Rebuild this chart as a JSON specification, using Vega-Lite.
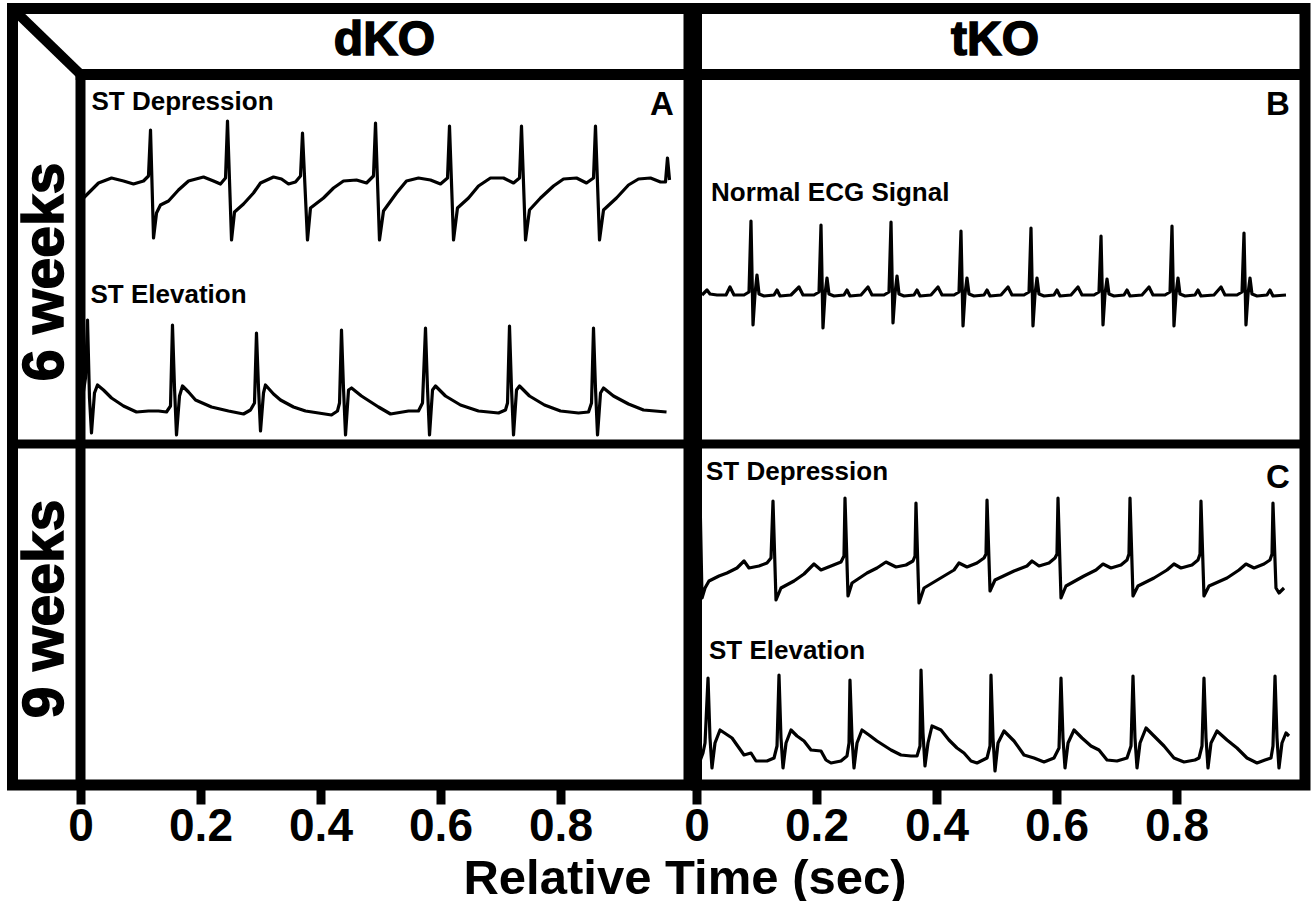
{
 "$schema": "https://vega.github.io/schema/vega-lite/v6.json",
 "background": "white",
 "padding": {"left": 1.5, "top": -2.5, "right": 0, "bottom": 0},
 "bounds": "flush",
 "spacing": 7,
 "config": {
  "view": {"stroke": "black", "strokeWidth": 11},
  "font": "Liberation Sans",
  "text": {"font": "Liberation Sans", "fontWeight": "bold", "color": "black"}
 },
 "title": {"text": "Relative Time (sec)", "orient": "bottom", "anchor": "middle", "font": "Liberation Sans", "fontSize": 49, "fontWeight": "bold", "color": "black", "offset": 0, "dx": 26},
 "datasets": {
  "dko": [
   {"s":"dep","t":0,"v":5.84},{"s":"dep","t":0.0133,"v":5.92},{"s":"dep","t":0.03,"v":6.02},{"s":"dep","t":0.0517,"v":6.07},{"s":"dep","t":0.0717,"v":6.04},{"s":"dep","t":0.0883,"v":6.01},{"s":"dep","t":0.105,"v":6.04},{"s":"dep","t":0.1133,"v":6.09},{"s":"dep","t":0.1167,"v":6.55},{"s":"dep","t":0.1217,"v":5.47},{"s":"dep","t":0.1267,"v":5.72},{"s":"dep","t":0.1333,"v":5.80},{"s":"dep","t":0.1467,"v":5.84},{"s":"dep","t":0.1633,"v":5.95},{"s":"dep","t":0.18,"v":6.04},{"s":"dep","t":0.205,"v":6.08},{"s":"dep","t":0.2217,"v":6.04},{"s":"dep","t":0.2333,"v":6.01},{"s":"dep","t":0.2417,"v":6.07},{"s":"dep","t":0.245,"v":6.64},{"s":"dep","t":0.2517,"v":5.45},{"s":"dep","t":0.2567,"v":5.73},{"s":"dep","t":0.2717,"v":5.81},{"s":"dep","t":0.2883,"v":5.92},{"s":"dep","t":0.3,"v":6.02},{"s":"dep","t":0.3217,"v":6.08},{"s":"dep","t":0.335,"v":6.06},{"s":"dep","t":0.3467,"v":6.01},{"s":"dep","t":0.3583,"v":6.03},{"s":"dep","t":0.3667,"v":6.09},{"s":"dep","t":0.37,"v":6.52},{"s":"dep","t":0.3783,"v":5.45},{"s":"dep","t":0.3833,"v":5.77},{"s":"dep","t":0.405,"v":5.87},{"s":"dep","t":0.4217,"v":5.97},{"s":"dep","t":0.4383,"v":6.04},{"s":"dep","t":0.46,"v":6.05},{"s":"dep","t":0.4767,"v":6.02},{"s":"dep","t":0.4883,"v":6.09},{"s":"dep","t":0.4917,"v":6.62},{"s":"dep","t":0.4983,"v":5.45},{"s":"dep","t":0.505,"v":5.74},{"s":"dep","t":0.5267,"v":5.92},{"s":"dep","t":0.5433,"v":6.04},{"s":"dep","t":0.5633,"v":6.07},{"s":"dep","t":0.5833,"v":6.05},{"s":"dep","t":0.6,"v":6.01},{"s":"dep","t":0.6117,"v":6.07},{"s":"dep","t":0.615,"v":6.59},{"s":"dep","t":0.6217,"v":5.45},{"s":"dep","t":0.6283,"v":5.77},{"s":"dep","t":0.6467,"v":5.87},{"s":"dep","t":0.6633,"v":5.99},{"s":"dep","t":0.6833,"v":6.07},{"s":"dep","t":0.705,"v":6.07},{"s":"dep","t":0.7217,"v":6.02},{"s":"dep","t":0.7317,"v":6.07},{"s":"dep","t":0.735,"v":6.59},{"s":"dep","t":0.7417,"v":5.45},{"s":"dep","t":0.7483,"v":5.75},{"s":"dep","t":0.7667,"v":5.87},{"s":"dep","t":0.7883,"v":5.99},{"s":"dep","t":0.805,"v":6.06},{"s":"dep","t":0.8267,"v":6.07},{"s":"dep","t":0.8433,"v":6.02},{"s":"dep","t":0.855,"v":6.07},{"s":"dep","t":0.8583,"v":6.59},{"s":"dep","t":0.865,"v":5.45},{"s":"dep","t":0.8717,"v":5.75},{"s":"dep","t":0.8933,"v":5.87},{"s":"dep","t":0.9133,"v":6.00},{"s":"dep","t":0.93,"v":6.06},{"s":"dep","t":0.95,"v":6.07},{"s":"dep","t":0.9667,"v":6.03},{"s":"dep","t":0.975,"v":6.03},{"s":"dep","t":0.9783,"v":6.27},{"s":"dep","t":0.9817,"v":6.05},
   {"s":"elev","t":0.0033,"v":3.87},{"s":"elev","t":0.0083,"v":4.07},{"s":"elev","t":0.0117,"v":4.65},{"s":"elev","t":0.015,"v":3.87},{"s":"elev","t":0.0183,"v":3.52},{"s":"elev","t":0.0233,"v":3.92},{"s":"elev","t":0.0283,"v":4.00},{"s":"elev","t":0.0383,"v":3.95},{"s":"elev","t":0.0517,"v":3.87},{"s":"elev","t":0.0717,"v":3.79},{"s":"elev","t":0.0933,"v":3.73},{"s":"elev","t":0.1133,"v":3.74},{"s":"elev","t":0.13,"v":3.74},{"s":"elev","t":0.1433,"v":3.73},{"s":"elev","t":0.15,"v":3.79},{"s":"elev","t":0.1533,"v":4.60},{"s":"elev","t":0.1567,"v":3.97},{"s":"elev","t":0.16,"v":3.50},{"s":"elev","t":0.165,"v":3.89},{"s":"elev","t":0.17,"v":3.99},{"s":"elev","t":0.18,"v":3.93},{"s":"elev","t":0.1917,"v":3.85},{"s":"elev","t":0.2183,"v":3.78},{"s":"elev","t":0.2467,"v":3.74},{"s":"elev","t":0.2717,"v":3.71},{"s":"elev","t":0.2833,"v":3.75},{"s":"elev","t":0.29,"v":3.82},{"s":"elev","t":0.2933,"v":4.52},{"s":"elev","t":0.2967,"v":3.97},{"s":"elev","t":0.3,"v":3.54},{"s":"elev","t":0.305,"v":3.92},{"s":"elev","t":0.3083,"v":4.00},{"s":"elev","t":0.3217,"v":3.91},{"s":"elev","t":0.3333,"v":3.85},{"s":"elev","t":0.355,"v":3.78},{"s":"elev","t":0.375,"v":3.74},{"s":"elev","t":0.3967,"v":3.72},{"s":"elev","t":0.4183,"v":3.70},{"s":"elev","t":0.4283,"v":3.74},{"s":"elev","t":0.4317,"v":3.82},{"s":"elev","t":0.435,"v":4.55},{"s":"elev","t":0.4383,"v":3.97},{"s":"elev","t":0.4417,"v":3.50},{"s":"elev","t":0.4467,"v":3.95},{"s":"elev","t":0.4517,"v":3.97},{"s":"elev","t":0.4683,"v":3.89},{"s":"elev","t":0.4967,"v":3.78},{"s":"elev","t":0.5167,"v":3.71},{"s":"elev","t":0.5467,"v":3.74},{"s":"elev","t":0.5633,"v":3.74},{"s":"elev","t":0.57,"v":3.82},{"s":"elev","t":0.575,"v":4.57},{"s":"elev","t":0.5783,"v":3.97},{"s":"elev","t":0.5817,"v":3.50},{"s":"elev","t":0.5867,"v":3.95},{"s":"elev","t":0.5917,"v":3.99},{"s":"elev","t":0.6083,"v":3.89},{"s":"elev","t":0.6333,"v":3.80},{"s":"elev","t":0.6633,"v":3.74},{"s":"elev","t":0.6967,"v":3.72},{"s":"elev","t":0.7083,"v":3.75},{"s":"elev","t":0.7117,"v":3.82},{"s":"elev","t":0.715,"v":4.59},{"s":"elev","t":0.7183,"v":3.97},{"s":"elev","t":0.7217,"v":3.50},{"s":"elev","t":0.7267,"v":3.95},{"s":"elev","t":0.7317,"v":3.99},{"s":"elev","t":0.7483,"v":3.89},{"s":"elev","t":0.7733,"v":3.80},{"s":"elev","t":0.8,"v":3.74},{"s":"elev","t":0.83,"v":3.72},{"s":"elev","t":0.8467,"v":3.73},{"s":"elev","t":0.8517,"v":3.82},{"s":"elev","t":0.855,"v":4.57},{"s":"elev","t":0.8583,"v":3.97},{"s":"elev","t":0.8617,"v":3.50},{"s":"elev","t":0.8667,"v":3.92},{"s":"elev","t":0.8717,"v":3.97},{"s":"elev","t":0.8883,"v":3.89},{"s":"elev","t":0.9133,"v":3.81},{"s":"elev","t":0.9383,"v":3.75},{"s":"elev","t":0.9767,"v":3.73}
  ],
  "tko": [
   {"s":"norm","t":0.0092,"v":4.90},{"s":"norm","t":0.0175,"v":4.95},{"s":"norm","t":0.0225,"v":4.91},{"s":"norm","t":0.0342,"v":4.90},{"s":"norm","t":0.0492,"v":4.90},{"s":"norm","t":0.0558,"v":4.98},{"s":"norm","t":0.0625,"v":4.90},{"s":"norm","t":0.0792,"v":4.90},{"s":"norm","t":0.0875,"v":4.93},{"s":"norm","t":0.0908,"v":5.64},{"s":"norm","t":0.0942,"v":4.60},{"s":"norm","t":0.0975,"v":4.91},{"s":"norm","t":0.1008,"v":5.10},{"s":"norm","t":0.1042,"v":4.91},{"s":"norm","t":0.1125,"v":4.89},{"s":"norm","t":0.1292,"v":4.90},{"s":"norm","t":0.1342,"v":4.95},{"s":"norm","t":0.1392,"v":4.89},{"s":"norm","t":0.1575,"v":4.90},{"s":"norm","t":0.1708,"v":4.98},{"s":"norm","t":0.1775,"v":4.90},{"s":"norm","t":0.1958,"v":4.90},{"s":"norm","t":0.2042,"v":4.93},{"s":"norm","t":0.2075,"v":5.60},{"s":"norm","t":0.2108,"v":4.57},{"s":"norm","t":0.2142,"v":4.91},{"s":"norm","t":0.2175,"v":5.07},{"s":"norm","t":0.2208,"v":4.91},{"s":"norm","t":0.2292,"v":4.89},{"s":"norm","t":0.2458,"v":4.90},{"s":"norm","t":0.2508,"v":4.95},{"s":"norm","t":0.2558,"v":4.89},{"s":"norm","t":0.2742,"v":4.90},{"s":"norm","t":0.2858,"v":4.98},{"s":"norm","t":0.2925,"v":4.90},{"s":"norm","t":0.3125,"v":4.90},{"s":"norm","t":0.3208,"v":4.93},{"s":"norm","t":0.3242,"v":5.63},{"s":"norm","t":0.3275,"v":4.62},{"s":"norm","t":0.3308,"v":4.91},{"s":"norm","t":0.3342,"v":5.09},{"s":"norm","t":0.3375,"v":4.91},{"s":"norm","t":0.3458,"v":4.89},{"s":"norm","t":0.3625,"v":4.90},{"s":"norm","t":0.3675,"v":4.95},{"s":"norm","t":0.3725,"v":4.89},{"s":"norm","t":0.3908,"v":4.90},{"s":"norm","t":0.4025,"v":4.98},{"s":"norm","t":0.4092,"v":4.90},{"s":"norm","t":0.4292,"v":4.90},{"s":"norm","t":0.4375,"v":4.93},{"s":"norm","t":0.4408,"v":5.54},{"s":"norm","t":0.4442,"v":4.59},{"s":"norm","t":0.4475,"v":4.91},{"s":"norm","t":0.4508,"v":5.07},{"s":"norm","t":0.4542,"v":4.91},{"s":"norm","t":0.4625,"v":4.89},{"s":"norm","t":0.4792,"v":4.90},{"s":"norm","t":0.4842,"v":4.95},{"s":"norm","t":0.4892,"v":4.89},{"s":"norm","t":0.5075,"v":4.90},{"s":"norm","t":0.5192,"v":4.98},{"s":"norm","t":0.5258,"v":4.90},{"s":"norm","t":0.5458,"v":4.90},{"s":"norm","t":0.5542,"v":4.93},{"s":"norm","t":0.5575,"v":5.57},{"s":"norm","t":0.5608,"v":4.59},{"s":"norm","t":0.5642,"v":4.91},{"s":"norm","t":0.5675,"v":5.07},{"s":"norm","t":0.5708,"v":4.91},{"s":"norm","t":0.5792,"v":4.89},{"s":"norm","t":0.5958,"v":4.90},{"s":"norm","t":0.6008,"v":4.95},{"s":"norm","t":0.6058,"v":4.89},{"s":"norm","t":0.6242,"v":4.90},{"s":"norm","t":0.6358,"v":4.98},{"s":"norm","t":0.6425,"v":4.90},{"s":"norm","t":0.6625,"v":4.90},{"s":"norm","t":0.6708,"v":4.93},{"s":"norm","t":0.6742,"v":5.49},{"s":"norm","t":0.6775,"v":4.60},{"s":"norm","t":0.6808,"v":4.91},{"s":"norm","t":0.6842,"v":5.06},{"s":"norm","t":0.6875,"v":4.91},{"s":"norm","t":0.6958,"v":4.89},{"s":"norm","t":0.7125,"v":4.90},{"s":"norm","t":0.7175,"v":4.95},{"s":"norm","t":0.7225,"v":4.89},{"s":"norm","t":0.7425,"v":4.90},{"s":"norm","t":0.7542,"v":4.98},{"s":"norm","t":0.7608,"v":4.90},{"s":"norm","t":0.7808,"v":4.90},{"s":"norm","t":0.7892,"v":4.93},{"s":"norm","t":0.7925,"v":5.59},{"s":"norm","t":0.7958,"v":4.59},{"s":"norm","t":0.7992,"v":4.91},{"s":"norm","t":0.8025,"v":5.07},{"s":"norm","t":0.8058,"v":4.91},{"s":"norm","t":0.8142,"v":4.89},{"s":"norm","t":0.8308,"v":4.90},{"s":"norm","t":0.8358,"v":4.95},{"s":"norm","t":0.8408,"v":4.89},{"s":"norm","t":0.8625,"v":4.90},{"s":"norm","t":0.8742,"v":4.98},{"s":"norm","t":0.8808,"v":4.90},{"s":"norm","t":0.9008,"v":4.90},{"s":"norm","t":0.9092,"v":4.93},{"s":"norm","t":0.9125,"v":5.52},{"s":"norm","t":0.9158,"v":4.60},{"s":"norm","t":0.9192,"v":4.91},{"s":"norm","t":0.9225,"v":5.07},{"s":"norm","t":0.9258,"v":4.91},{"s":"norm","t":0.9342,"v":4.89},{"s":"norm","t":0.9508,"v":4.90},{"s":"norm","t":0.9558,"v":4.95},{"s":"norm","t":0.9608,"v":4.89},{"s":"norm","t":0.9825,"v":4.90},
   {"s":"dep","t":0.0058,"v":2.89},{"s":"dep","t":0.0092,"v":1.87},{"s":"dep","t":0.0142,"v":1.97},{"s":"dep","t":0.0208,"v":2.04},{"s":"dep","t":0.0375,"v":2.09},{"s":"dep","t":0.0508,"v":2.12},{"s":"dep","t":0.0675,"v":2.17},{"s":"dep","t":0.0792,"v":2.24},{"s":"dep","t":0.0875,"v":2.17},{"s":"dep","t":0.1042,"v":2.19},{"s":"dep","t":0.1175,"v":2.22},{"s":"dep","t":0.1242,"v":2.27},{"s":"dep","t":0.1275,"v":2.84},{"s":"dep","t":0.1325,"v":1.85},{"s":"dep","t":0.1408,"v":1.97},{"s":"dep","t":0.1625,"v":2.04},{"s":"dep","t":0.1792,"v":2.11},{"s":"dep","t":0.1958,"v":2.21},{"s":"dep","t":0.2075,"v":2.15},{"s":"dep","t":0.2242,"v":2.19},{"s":"dep","t":0.2408,"v":2.23},{"s":"dep","t":0.2458,"v":2.29},{"s":"dep","t":0.2475,"v":2.87},{"s":"dep","t":0.2525,"v":1.89},{"s":"dep","t":0.2592,"v":2.02},{"s":"dep","t":0.2842,"v":2.12},{"s":"dep","t":0.3008,"v":2.17},{"s":"dep","t":0.3158,"v":2.23},{"s":"dep","t":0.3325,"v":2.18},{"s":"dep","t":0.3492,"v":2.20},{"s":"dep","t":0.3608,"v":2.24},{"s":"dep","t":0.3642,"v":2.29},{"s":"dep","t":0.3658,"v":2.82},{"s":"dep","t":0.3708,"v":1.82},{"s":"dep","t":0.3792,"v":1.97},{"s":"dep","t":0.4125,"v":2.09},{"s":"dep","t":0.4292,"v":2.15},{"s":"dep","t":0.4375,"v":2.22},{"s":"dep","t":0.4508,"v":2.18},{"s":"dep","t":0.4675,"v":2.22},{"s":"dep","t":0.4792,"v":2.27},{"s":"dep","t":0.4825,"v":2.31},{"s":"dep","t":0.4842,"v":2.85},{"s":"dep","t":0.4892,"v":1.94},{"s":"dep","t":0.4975,"v":2.05},{"s":"dep","t":0.5292,"v":2.14},{"s":"dep","t":0.5508,"v":2.19},{"s":"dep","t":0.5592,"v":2.24},{"s":"dep","t":0.5708,"v":2.19},{"s":"dep","t":0.5875,"v":2.22},{"s":"dep","t":0.5975,"v":2.27},{"s":"dep","t":0.6008,"v":2.31},{"s":"dep","t":0.6025,"v":2.87},{"s":"dep","t":0.6075,"v":1.87},{"s":"dep","t":0.6158,"v":1.99},{"s":"dep","t":0.6458,"v":2.09},{"s":"dep","t":0.6658,"v":2.15},{"s":"dep","t":0.6775,"v":2.21},{"s":"dep","t":0.6908,"v":2.17},{"s":"dep","t":0.7075,"v":2.20},{"s":"dep","t":0.7175,"v":2.25},{"s":"dep","t":0.7208,"v":2.31},{"s":"dep","t":0.7225,"v":2.87},{"s":"dep","t":0.7275,"v":1.89},{"s":"dep","t":0.7358,"v":1.99},{"s":"dep","t":0.7625,"v":2.07},{"s":"dep","t":0.7842,"v":2.15},{"s":"dep","t":0.7958,"v":2.21},{"s":"dep","t":0.8075,"v":2.17},{"s":"dep","t":0.8258,"v":2.20},{"s":"dep","t":0.8358,"v":2.25},{"s":"dep","t":0.8392,"v":2.31},{"s":"dep","t":0.8408,"v":2.84},{"s":"dep","t":0.8458,"v":1.89},{"s":"dep","t":0.8542,"v":1.99},{"s":"dep","t":0.8842,"v":2.07},{"s":"dep","t":0.9042,"v":2.15},{"s":"dep","t":0.9158,"v":2.21},{"s":"dep","t":0.9292,"v":2.17},{"s":"dep","t":0.9458,"v":2.21},{"s":"dep","t":0.9558,"v":2.25},{"s":"dep","t":0.9592,"v":2.31},{"s":"dep","t":0.9608,"v":2.82},{"s":"dep","t":0.9658,"v":1.97},{"s":"dep","t":0.9708,"v":1.92},{"s":"dep","t":0.9792,"v":1.97},
   {"s":"elev","t":0.0058,"v":0.24},{"s":"elev","t":0.0108,"v":0.32},{"s":"elev","t":0.0142,"v":0.42},{"s":"elev","t":0.0192,"v":1.07},{"s":"elev","t":0.0225,"v":0.47},{"s":"elev","t":0.0258,"v":0.17},{"s":"elev","t":0.0308,"v":0.42},{"s":"elev","t":0.0392,"v":0.55},{"s":"elev","t":0.0492,"v":0.51},{"s":"elev","t":0.0592,"v":0.47},{"s":"elev","t":0.0792,"v":0.30},{"s":"elev","t":0.0908,"v":0.32},{"s":"elev","t":0.0992,"v":0.24},{"s":"elev","t":0.1175,"v":0.24},{"s":"elev","t":0.1292,"v":0.27},{"s":"elev","t":0.1342,"v":0.39},{"s":"elev","t":0.1375,"v":1.10},{"s":"elev","t":0.1408,"v":0.47},{"s":"elev","t":0.1442,"v":0.17},{"s":"elev","t":0.1492,"v":0.42},{"s":"elev","t":0.1575,"v":0.55},{"s":"elev","t":0.1675,"v":0.49},{"s":"elev","t":0.1792,"v":0.44},{"s":"elev","t":0.1908,"v":0.35},{"s":"elev","t":0.2075,"v":0.34},{"s":"elev","t":0.2158,"v":0.25},{"s":"elev","t":0.2242,"v":0.22},{"s":"elev","t":0.2408,"v":0.24},{"s":"elev","t":0.2508,"v":0.29},{"s":"elev","t":0.2542,"v":0.42},{"s":"elev","t":0.2558,"v":1.05},{"s":"elev","t":0.2592,"v":0.47},{"s":"elev","t":0.2625,"v":0.17},{"s":"elev","t":0.2675,"v":0.42},{"s":"elev","t":0.2758,"v":0.55},{"s":"elev","t":0.2875,"v":0.50},{"s":"elev","t":0.3008,"v":0.44},{"s":"elev","t":0.3242,"v":0.35},{"s":"elev","t":0.3408,"v":0.30},{"s":"elev","t":0.3575,"v":0.29},{"s":"elev","t":0.3675,"v":0.29},{"s":"elev","t":0.3725,"v":0.39},{"s":"elev","t":0.3742,"v":1.15},{"s":"elev","t":0.3775,"v":0.52},{"s":"elev","t":0.3808,"v":0.19},{"s":"elev","t":0.3858,"v":0.42},{"s":"elev","t":0.3925,"v":0.59},{"s":"elev","t":0.4075,"v":0.55},{"s":"elev","t":0.4208,"v":0.45},{"s":"elev","t":0.4342,"v":0.37},{"s":"elev","t":0.4458,"v":0.32},{"s":"elev","t":0.4575,"v":0.24},{"s":"elev","t":0.4675,"v":0.22},{"s":"elev","t":0.4842,"v":0.27},{"s":"elev","t":0.4892,"v":0.39},{"s":"elev","t":0.4908,"v":1.10},{"s":"elev","t":0.4942,"v":0.47},{"s":"elev","t":0.4975,"v":0.14},{"s":"elev","t":0.5025,"v":0.42},{"s":"elev","t":0.5125,"v":0.54},{"s":"elev","t":0.5292,"v":0.44},{"s":"elev","t":0.5458,"v":0.30},{"s":"elev","t":0.5625,"v":0.27},{"s":"elev","t":0.5792,"v":0.23},{"s":"elev","t":0.5958,"v":0.27},{"s":"elev","t":0.6042,"v":0.37},{"s":"elev","t":0.6075,"v":1.07},{"s":"elev","t":0.6108,"v":0.47},{"s":"elev","t":0.6142,"v":0.17},{"s":"elev","t":0.6192,"v":0.42},{"s":"elev","t":0.6292,"v":0.55},{"s":"elev","t":0.6425,"v":0.47},{"s":"elev","t":0.6575,"v":0.39},{"s":"elev","t":0.6708,"v":0.35},{"s":"elev","t":0.6842,"v":0.25},{"s":"elev","t":0.7008,"v":0.24},{"s":"elev","t":0.7175,"v":0.27},{"s":"elev","t":0.7242,"v":0.39},{"s":"elev","t":0.7275,"v":1.09},{"s":"elev","t":0.7308,"v":0.47},{"s":"elev","t":0.7342,"v":0.17},{"s":"elev","t":0.7392,"v":0.42},{"s":"elev","t":0.7492,"v":0.57},{"s":"elev","t":0.7625,"v":0.49},{"s":"elev","t":0.7792,"v":0.39},{"s":"elev","t":0.7958,"v":0.27},{"s":"elev","t":0.8125,"v":0.23},{"s":"elev","t":0.8308,"v":0.25},{"s":"elev","t":0.8375,"v":0.27},{"s":"elev","t":0.8425,"v":0.39},{"s":"elev","t":0.8458,"v":1.07},{"s":"elev","t":0.8492,"v":0.47},{"s":"elev","t":0.8525,"v":0.17},{"s":"elev","t":0.8575,"v":0.42},{"s":"elev","t":0.8675,"v":0.54},{"s":"elev","t":0.8842,"v":0.45},{"s":"elev","t":0.9008,"v":0.37},{"s":"elev","t":0.9175,"v":0.27},{"s":"elev","t":0.9342,"v":0.22},{"s":"elev","t":0.9475,"v":0.25},{"s":"elev","t":0.9575,"v":0.27},{"s":"elev","t":0.9608,"v":0.39},{"s":"elev","t":0.9642,"v":1.09},{"s":"elev","t":0.9675,"v":0.47},{"s":"elev","t":0.9708,"v":0.17},{"s":"elev","t":0.9758,"v":0.42},{"s":"elev","t":0.9825,"v":0.52},{"s":"elev","t":0.9875,"v":0.49}
  ]
 },
 "hconcat": [
  {
   "width": 676.5,
   "height": 776.5,
   "layer": [
    {
     "data": {"name": "dko"},
     "mark": {"type": "line", "color": "black", "strokeWidth": 3.2, "strokeJoin": "round"},
     "encoding": {
      "x": {"field": "t", "type": "quantitative", "scale": {"domain": [-0.11333, 1.01417], "nice": false, "zero": false},
            "axis": {"values": [0, 0.2, 0.4, 0.6, 0.8], "format": "~g", "title": null, "domain": false, "grid": false, "tickSize": 19, "tickWidth": 9, "tickColor": "black", "labelFont": "Liberation Sans", "labelFontSize": 46, "labelFontWeight": "bold", "labelColor": "black", "labelPadding": 0, "labelFlush": false, "labelOverlap": false}},
      "y": {"field": "v", "type": "quantitative", "scale": {"domain": [0, 7.765], "nice": false, "zero": false}, "axis": null},
      "detail": {"field": "s"}
     }
    },
    {
     "data": {"values": [{}]},
     "mark": {"type": "rule", "color": "black", "strokeWidth": 10},
     "encoding": {"x": {"datum": 0, "type": "quantitative", "scale": {"domain": [-0.11333, 1.01417], "nice": false, "zero": false}}, "y": {"datum": 0, "type": "quantitative", "scale": {"domain": [0, 7.765], "nice": false, "zero": false}}, "y2": {"datum": 7.105}}
    },
    {
     "data": {"values": [{}]},
     "mark": {"type": "rule", "color": "black", "strokeWidth": 11},
     "encoding": {"x": {"datum": -0.008, "type": "quantitative"}, "x2": {"datum": 1.01417}, "y": {"datum": 7.105, "type": "quantitative"}}
    },
    {
     "data": {"values": [{}]},
     "mark": {"type": "rule", "color": "black", "strokeWidth": 9},
     "encoding": {"x": {"datum": -0.11333, "type": "quantitative"}, "x2": {"datum": 1.01417}, "y": {"datum": 3.41, "type": "quantitative"}}
    },
    {
     "data": {"values": [{}]},
     "mark": {"type": "rule", "color": "black", "strokeWidth": 10},
     "encoding": {"x": {"datum": -0.11333, "type": "quantitative"}, "y": {"datum": 7.765, "type": "quantitative"}, "x2": {"datum": 0.002}, "y2": {"datum": 7.095}}
    },
    {
     "data": {"values": [{}]},
     "mark": {"type": "text", "text": "dKO", "fontSize": 48, "fontWeight": "bold", "stroke": "black", "strokeWidth": 1.5, "align": "center", "baseline": "middle"},
     "encoding": {"x": {"datum": 0.5067, "type": "quantitative"}, "y": {"datum": 7.44, "type": "quantitative"}}
    },
    {
     "data": {"values": [{}]},
     "mark": {"type": "text", "text": "6 weeks", "fontSize": 57, "fontWeight": "bold", "stroke": "black", "strokeWidth": 1.5, "align": "center", "baseline": "middle", "angle": 270},
     "encoding": {"x": {"datum": -0.0567, "type": "quantitative"}, "y": {"datum": 5.13, "type": "quantitative"}}
    },
    {
     "data": {"values": [{}]},
     "mark": {"type": "text", "text": "9 weeks", "fontSize": 57, "fontWeight": "bold", "stroke": "black", "strokeWidth": 1.5, "align": "center", "baseline": "middle", "angle": 270},
     "encoding": {"x": {"datum": -0.0567, "type": "quantitative"}, "y": {"datum": 1.76, "type": "quantitative"}}
    },
    {
     "data": {"values": [{}]},
     "mark": {"type": "text", "text": "ST Depression", "fontSize": 26, "fontWeight": "bold", "align": "left", "baseline": "middle"},
     "encoding": {"x": {"datum": 0.0183, "type": "quantitative"}, "y": {"datum": 6.83, "type": "quantitative"}}
    },
    {
     "data": {"values": [{}]},
     "mark": {"type": "text", "text": "ST Elevation", "fontSize": 26, "fontWeight": "bold", "align": "left", "baseline": "middle"},
     "encoding": {"x": {"datum": 0.0167, "type": "quantitative"}, "y": {"datum": 4.9, "type": "quantitative"}}
    },
    {
     "data": {"values": [{}]},
     "mark": {"type": "text", "text": "A", "fontSize": 33, "fontWeight": "bold", "align": "center", "baseline": "middle"},
     "encoding": {"x": {"datum": 0.969, "type": "quantitative"}, "y": {"datum": 6.8, "type": "quantitative"}}
    }
   ]
  },
  {
   "width": 608.5,
   "height": 776.5,
   "layer": [
    {
     "data": {"name": "tko"},
     "mark": {"type": "line", "color": "black", "strokeWidth": 3.2, "strokeJoin": "round"},
     "encoding": {
      "x": {"field": "t", "type": "quantitative", "scale": {"domain": [0, 1.01417], "nice": false, "zero": false},
            "axis": {"values": [0, 0.2, 0.4, 0.6, 0.8], "format": "~g", "title": null, "domain": false, "grid": false, "tickSize": 19, "tickWidth": 9, "tickColor": "black", "labelFont": "Liberation Sans", "labelFontSize": 46, "labelFontWeight": "bold", "labelColor": "black", "labelPadding": 0, "labelFlush": false, "labelOverlap": false}},
      "y": {"field": "v", "type": "quantitative", "scale": {"domain": [0, 7.765], "nice": false, "zero": false}, "axis": null},
      "detail": {"field": "s"}
     }
    },
    {
     "data": {"values": [{}]},
     "mark": {"type": "rule", "color": "black", "strokeWidth": 11},
     "encoding": {"x": {"datum": 0, "type": "quantitative", "scale": {"domain": [0, 1.01417], "nice": false, "zero": false}}, "x2": {"datum": 1.01417}, "y": {"datum": 7.105, "type": "quantitative", "scale": {"domain": [0, 7.765], "nice": false, "zero": false}}}
    },
    {
     "data": {"values": [{}]},
     "mark": {"type": "rule", "color": "black", "strokeWidth": 9},
     "encoding": {"x": {"datum": 0, "type": "quantitative"}, "x2": {"datum": 1.01417}, "y": {"datum": 3.41, "type": "quantitative"}}
    },
    {
     "data": {"values": [{}]},
     "mark": {"type": "text", "text": "tKO", "fontSize": 48, "fontWeight": "bold", "stroke": "black", "strokeWidth": 1.5, "align": "center", "baseline": "middle"},
     "encoding": {"x": {"datum": 0.4975, "type": "quantitative"}, "y": {"datum": 7.44, "type": "quantitative"}}
    },
    {
     "data": {"values": [{}]},
     "mark": {"type": "text", "text": "Normal ECG Signal", "fontSize": 26, "fontWeight": "bold", "align": "left", "baseline": "middle"},
     "encoding": {"x": {"datum": 0.0242, "type": "quantitative"}, "y": {"datum": 5.92, "type": "quantitative"}}
    },
    {
     "data": {"values": [{}]},
     "mark": {"type": "text", "text": "ST Depression", "fontSize": 26, "fontWeight": "bold", "align": "left", "baseline": "middle"},
     "encoding": {"x": {"datum": 0.0158, "type": "quantitative"}, "y": {"datum": 3.13, "type": "quantitative"}}
    },
    {
     "data": {"values": [{}]},
     "mark": {"type": "text", "text": "ST Elevation", "fontSize": 26, "fontWeight": "bold", "align": "left", "baseline": "middle"},
     "encoding": {"x": {"datum": 0.0208, "type": "quantitative"}, "y": {"datum": 1.345, "type": "quantitative"}}
    },
    {
     "data": {"values": [{}]},
     "mark": {"type": "text", "text": "B", "fontSize": 33, "fontWeight": "bold", "align": "center", "baseline": "middle"},
     "encoding": {"x": {"datum": 0.969, "type": "quantitative"}, "y": {"datum": 6.8, "type": "quantitative"}}
    },
    {
     "data": {"values": [{}]},
     "mark": {"type": "text", "text": "C", "fontSize": 33, "fontWeight": "bold", "align": "center", "baseline": "middle"},
     "encoding": {"x": {"datum": 0.969, "type": "quantitative"}, "y": {"datum": 3.07, "type": "quantitative"}}
    }
   ]
  }
 ]
}
